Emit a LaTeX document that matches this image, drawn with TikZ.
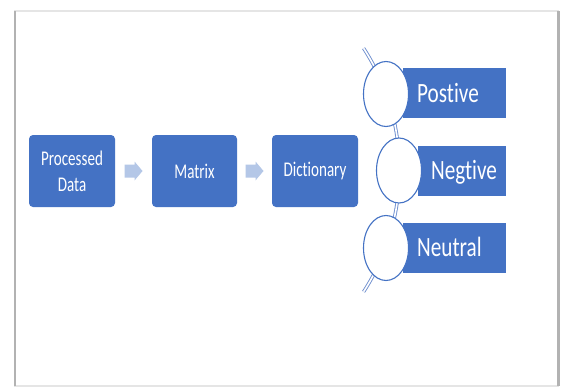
\documentclass[tikz,border=0pt]{standalone}
\usepackage{fontspec}
\setmainfont{Carlito}[FakeStretch=0.72, Ligatures=NoCommon]
\newfontfamily\bigfont{Carlito}[FakeStretch=0.76, Ligatures=NoCommon]
\usetikzlibrary{calc}
\definecolor{boxblue}{HTML}{4472C4}
\definecolor{arrowc}{HTML}{B4C7E7}
\definecolor{arcblue}{HTML}{6F8FCF}
\tikzset{
  stepbox/.style={draw=none, fill=boxblue, rounded corners=4bp, text=white,
    minimum width=86bp, minimum height=72bp, inner sep=0pt, align=center,
    font=\fontsize{21}{26}\selectfont},
  catbox/.style={draw=none, fill=boxblue, minimum height=50bp, inner sep=0pt},
  bubble/.style={ellipse, draw=boxblue, line width=1.1bp, fill=white,
    minimum width=45bp, minimum height=65bp, inner sep=0pt},
  catlabel/.style={text=white, inner sep=0pt, anchor=base west,
    font=\bigfont\fontsize{28}{30}\selectfont},
  blockarrow/.style={fill=arrowc, draw=none},
  arcline/.style={draw=arcblue, line width=0.9bp, double=white, double distance=1.6bp}
}
\usetikzlibrary{shapes.geometric}
\begin{document}
\begin{tikzpicture}[x=1bp,y=1bp]
\useasboundingbox (0,0) rectangle (561,387);
% page sheet with shadow
\fill[white] (0,0) rectangle (561,387);
\draw[gray!20, line width=1.2bp, fill=white] (15,1) rectangle (558,376);
\draw[gray!60, line width=2.8bp] (15,1) -- (15,376);
\draw[gray!60, line width=2.8bp] (558.5,1) -- (558.5,376);

% main boxes
\node[stepbox, minimum width=86bp] (pd) at (72,216) {Processed\\Data};
\node[stepbox, minimum width=85bp] (mx) at (194.5,216) {Matrix};
\node[stepbox, minimum width=86bp] (dc) at (315,216) {Dictionary};

% block arrows
\coordinate (m1) at ($(pd.east)!0.5!(mx.west)$);
\coordinate (m2) at ($(mx.east)!0.5!(dc.west)$);
\foreach \m in {m1,m2}{
  \fill[blockarrow] ($(\m)+(-9,-6.5)$) -- ++(10,0) -- ++(0,-3) -- ++(8,9.5)
     -- ++(-8,9.5) -- ++(0,-3) -- ++(-10,0) -- cycle;
}

% arc connector
\coordinate (ac) at (175,217);
\coordinate (atop) at ($(ac)+(32.85:224.5bp)$);
\coordinate (abot) at ($(ac)+(-32.85:224.5bp)$);
\draw[arcline] (abot) arc[start angle=-32.85, end angle=32.85, radius=224.5bp];

% category rectangles
\node[catbox, minimum width=103bp] (rp) at (454.5,294) {};
\node[catbox, minimum width=88bp] (rn) at (462,216) {};
\node[catbox, minimum width=103bp] (ru) at (454.5,139) {};

% bubbles
\node[bubble] (ep) at (386,293) {};
\node[bubble] (en) at (399,216.5) {};
\node[bubble] (eu) at (386,139) {};

% labels
\node[catlabel] (lp) at (417,284.3) {Postive};
\node[catlabel] (ln) at (431,208) {Negtive};
\node[catlabel] (lu) at (417,131) {Neutral};
\end{tikzpicture}
\end{document}
